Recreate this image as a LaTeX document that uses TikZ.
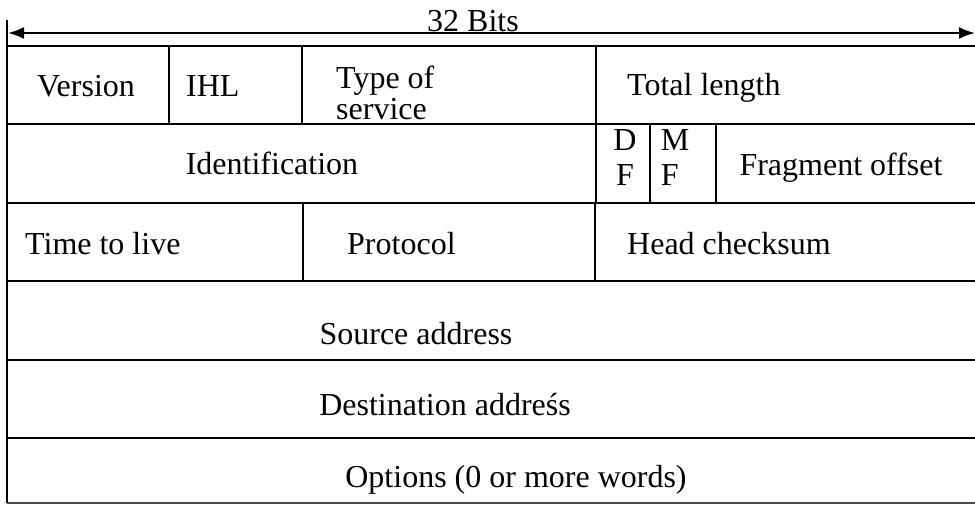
\documentclass[tikz,border=0pt]{standalone}
\usepackage{fontspec}
\setmainfont{Liberation Serif}
\usetikzlibrary{arrows.meta}
\begin{document}
\begin{tikzpicture}[x=1pt,y=-1pt,
  rule/.style={line width=2pt,black},
  lbl/.style={inner sep=0pt,font=\fontsize{32}{36}\selectfont},
  lblw/.style={lbl,anchor=west}]
\useasboundingbox (0,0) rectangle (975,504);
% width arrow
\coordinate (al) at (8,33);
\coordinate (ar) at (975,33);
\draw[line width=2pt,{Latex[length=16pt,width=12pt]}-{Latex[length=16pt,width=12pt]}] (al) -- (ar);
\node[lbl,anchor=base] (bits) at (473,31) {32 Bits};
% frame
\draw[rule] (7,20) -- (7,503);
\foreach \yy in {46,124,203,281,360,438} \draw[rule] (7,\yy) -- (975,\yy);
\draw[line width=1.5pt,black!70] (7,503) -- (975,503);
% row 1
\draw[rule] (169,46) -- (169,124);
\draw[rule] (302,46) -- (302,124);
\draw[rule] (596,46) -- (596,124);
% row 2
\draw[rule] (596,124) -- (596,203);
\draw[rule] (650,124) -- (650,203);
\draw[rule] (716,124) -- (716,203);
% row 3
\draw[rule] (303,203) -- (303,281);
\draw[rule] (595,203) -- (595,281);
% texts
\node[lbl] (ver) at (86,86) {Version};
\node[lblw] (ihl) at (186,86) {IHL};
\node[lblw,align=left,font=\fontsize{32}{31}\selectfont] (tos) at (336,93) {Type of\\service};
\node[lblw] (tl) at (627,88) {Total length};
\node[lbl] (id) at (272,163) {Identification};
\node[lbl,align=center,font=\fontsize{32}{35}\selectfont] (df) at (625,158) {D\\F};
\node[lbl,align=left,font=\fontsize{32}{35}\selectfont] (mf) at (675,158) {M\\F};
\node[lbl] (fo) at (841,168) {Fragment offset};
\node[lblw] (ttl) at (25,244) {Time to live};
\node[lblw] (proto) at (347,244) {Protocol};
\node[lblw] (hc) at (627,244) {Head checksum};
\node[lbl] (src) at (416,334) {Source address};
\node[lbl] (dst) at (445,405) {Destination addreśs};
\node[lbl] (opt) at (516,480) {Options (0 or more words)};
\end{tikzpicture}
\end{document}
